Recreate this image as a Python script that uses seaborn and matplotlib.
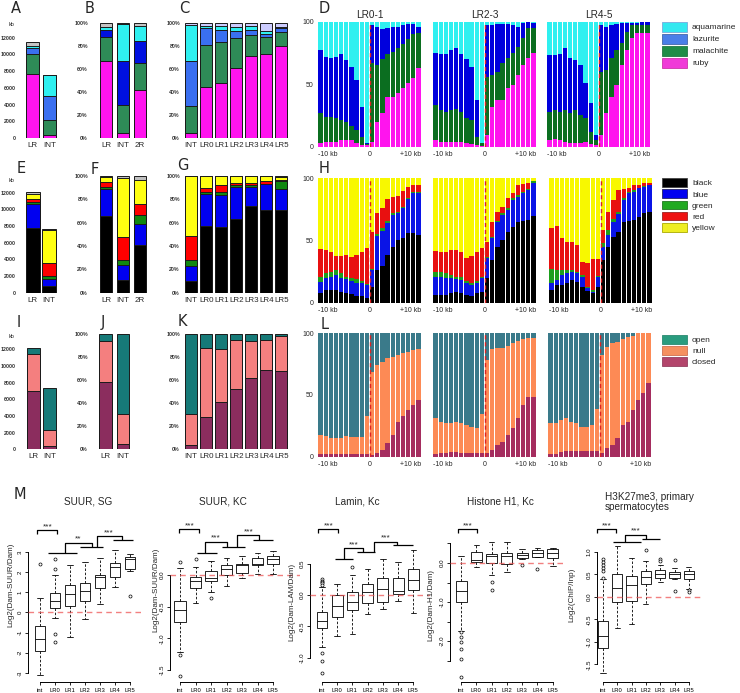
import numpy as np
import pandas as pd
import matplotlib
matplotlib.use("Agg")
import matplotlib.pyplot as plt
from matplotlib.patches import Patch
import seaborn as sns

sns.set_style("white")
plt.rcParams["font.family"] = ["Liberation Sans", "DejaVu Sans"]

# ---------------- data ----------------
two_cats = ["LR", "INT"]
three_cats = ["LR", "INT", "2R"]
seven_cats = ["INT", "LR0", "LR1", "LR2", "LR3", "LR4", "LR5"]

# A (kb): ruby, malachite, lazurite, aquamarine, other
a_ruby = [7600, 350]
a_mal = [2500, 1750]
a_laz = [700, 2900]
a_aqua = [200, 2500]
a_other = [500, 0]
# B (%)
b_ruby = [67, 5, 42]
b_mal = [21, 24, 23]
b_laz = [6, 38, 19]
b_aqua = [2, 32, 13]
b_other = [4, 1, 3]
# C (%)
c_ruby = [5, 44, 48, 61, 71, 73, 80]
c_mal = [23, 37, 35, 26, 18, 15, 12]
c_laz = [39, 14, 11, 6, 5, 2, 3]
c_aqua = [31, 2, 3, 3, 3, 3, 1]
c_other = [2, 3, 3, 4, 3, 7, 4]

# E (kb): black, blue, green, red, yellow, other
e_black = [7800, 800]
e_blue = [2800, 900]
e_green = [300, 300]
e_red = [400, 1600]
e_yellow = [600, 3900]
e_other = [150, 100]
# F (%)
f_black = [66, 11, 41]
f_blue = [23, 13, 18]
f_green = [2, 4, 8]
f_red = [4, 20, 9]
f_yellow = [4, 50, 21]
f_other = [1, 2, 3]
# G (%)
g_black = [10, 57, 56, 63, 74, 71, 71]
g_blue = [13, 28, 28, 28, 17, 22, 18]
g_green = [5, 1, 2, 1, 1, 0.5, 7]
g_red = [21, 4, 6, 2, 2, 2.5, 1]
g_yellow = [51, 10, 8, 6, 6, 4, 2]
g_other = [0, 0, 0, 0, 0, 0, 1]

# I (kb): closed, null, open
i_closed = [7000, 400]
i_null = [4400, 1900]
i_open = [700, 5100]
# J (%)
j_closed = [58, 5]
j_null = [36, 26]
j_open = [6, 69]
# K (%)
k_closed = [4, 28, 41, 52, 62, 69, 68]
k_null = [27, 60, 46, 43, 32, 26, 30]
k_open = [69, 12, 13, 5, 6, 5, 2]

# Profiles: cumulative stack tops (%), 20 bins of 1 kb from -10 to +10 kb
full = [100] * 20
d_lr01_ruby = [3, 4, 4, 4, 5, 5, 5, 3, 1, 1, 4, 20, 27, 40, 40, 43, 47, 51, 55, 63]
d_lr01_mal = [27, 24, 23.5, 23, 21, 20, 16.5, 13, 8, 2.5, 67, 65, 70, 74, 76, 79, 82, 86, 90, 91]
d_lr01_laz = [77, 71.5, 71, 71.5, 74, 69, 64, 53, 32, 3, 97, 96, 94, 95, 96, 96, 97, 98, 98, 96]
d_lr23_ruby = [5, 4, 4, 4, 4, 4, 3, 2, 1, 0.5, 9, 32, 37, 37, 47, 49, 57, 65, 71, 75]
d_lr23_mal = [33, 29, 28, 29, 30, 28, 23, 21, 8, 3, 56, 57, 60, 67, 71, 75, 80, 87, 95, 95]
d_lr23_laz = [75, 74, 74, 77, 79, 74, 70, 64, 37, 3, 97, 97, 98, 98, 98, 97, 96, 99, 100, 99]
d_lr45_ruby = [5, 6, 5, 4, 3, 3, 3, 4, 2, 1, 9, 27, 40, 49, 65, 77, 87, 91, 91, 91]
d_lr45_mal = [28, 29, 28, 29, 27, 29, 25, 23, 12, 5, 60, 61, 71, 77, 83, 92, 97, 97, 97, 97]
d_lr45_laz = [73, 73, 74, 79, 71, 69, 65, 51, 35, 9, 97, 96, 97, 98, 99, 99, 99, 99, 100, 100]

h_lr01_black = [8, 10, 10, 10, 9, 8, 7, 5.4, 5.4, 3.5, 13, 26, 29.5, 38, 44.5, 50, 52, 55.8, 56, 54.4]
h_lr01_blue = [17, 19.6, 21, 22, 20, 19, 17.7, 16, 15.5, 14, 26, 53.6, 57.6, 64, 70.5, 72, 75.8, 83, 88.5, 88.5]
h_lr01_green = [21, 23.6, 25, 26, 23.6, 21, 20, 19, 17.7, 15, 27, 55, 59.8, 66, 72, 73, 77, 84.5, 89, 89]
h_lr01_red = [43, 42, 41, 37.8, 37.8, 38.6, 37, 38.6, 41, 44, 57, 72, 76, 83.6, 85, 86, 90, 93, 94.6, 94.6]
h_lr23_black = [6, 6, 6, 7.5, 9, 7.5, 6, 5, 7.5, 9, 19.6, 34, 44.5, 50, 57, 61, 65, 66, 66.5, 69.7]
h_lr23_blue = [21, 21, 20, 19.6, 18.8, 18, 15.5, 14, 15.5, 19.6, 35.6, 51.7, 65, 70.5, 74.5, 82.6, 85, 88, 90.6, 96.5]
h_lr23_green = [25, 25, 24, 22, 21, 21, 17.7, 15.5, 17.7, 21, 37, 53, 66, 72, 76, 84, 86.6, 89, 91.4, 97.6]
h_lr23_red = [41.8, 41, 41, 42, 42, 41, 35.6, 37.5, 41, 44, 49, 65, 73, 77, 84.5, 88.5, 94.6, 95.4, 96, 98]
h_lr45_black = [10, 14, 14, 16, 18, 17, 13, 9.7, 8, 13, 34, 44.5, 52.5, 57, 64.5, 66, 66.5, 69, 72, 73]
h_lr45_blue = [15.5, 18, 22, 23.6, 25, 23.6, 21, 11.5, 8.8, 21, 45, 54.7, 64.5, 71, 82.6, 88, 89, 92, 93, 94.6]
h_lr45_green = [27, 26, 26, 26, 26, 24.7, 22, 12.9, 10, 21.5, 47.7, 58.7, 67, 73, 84.5, 89, 90.6, 92.5, 93.5, 95]
h_lr45_red = [60, 61.4, 52, 49, 49, 46, 33, 32, 35, 35, 58.7, 73, 82.6, 90.6, 91, 92, 94.6, 95, 96, 96]

l_lr01_closed = [2, 2, 2, 2, 2, 2.5, 2.5, 2, 2, 2, 1.5, 2.7, 5.4, 10.8, 17.5, 28, 33, 38, 42, 46]
l_lr01_null = [17.6, 16.8, 15, 15.4, 15.4, 16.8, 16, 16, 16, 33, 69, 74, 77, 80, 80.5, 82.7, 84, 85, 86.5, 87]
l_lr23_closed = [2, 3, 3, 4, 4, 3, 3, 3, 3, 3, 2.7, 5.4, 9.5, 12, 17.5, 23, 31, 42, 48, 48]
l_lr23_null = [31, 28.4, 27, 27, 28.4, 27.6, 25.7, 24, 23, 35, 78, 87, 87.8, 87.8, 89.7, 92, 94, 95, 96, 96]
l_lr45_closed = [2, 2, 4, 5, 5, 5, 5, 5, 5, 5, 2.7, 6.8, 9.5, 15, 25.7, 28.4, 38, 46, 51.4, 59.5]
l_lr45_null = [27, 27, 29.7, 31, 28.4, 27, 24, 24, 25.7, 38.6, 82.4, 89, 92, 93, 95, 96.8, 98, 100, 100, 100]

# M box plots: [whisker low, Q1, median, Q3, whisker high] per group
groups = ["int", "LR0", "LR1", "LR2", "LR3", "LR4", "LR5"]
suur_sg_stats = [[-3.1, -1.9, -1.33, -0.7, 0.72], [-0.28, 0.22, 0.55, 0.97, 1.85],
                 [-1.2, 0.3, 0.92, 1.33, 2.33], [-0.33, 0.55, 1.08, 1.43, 2.47],
                 [0.4, 1.22, 1.77, 1.83, 2.67], [1.27, 1.77, 2.25, 2.43, 3.1],
                 [2.03, 2.13, 2.63, 2.72, 2.88]]
suur_sg_out = {"int": [2.38], "LR0": [2.63, 2.13, -1.07, -1.48], "LR5": [0.8]}
suur_kc_stats = [[-1.21, -0.74, -0.55, -0.405, 0.105], [-0.44, -0.21, -0.1, -0.03, 0.12],
                 [-0.27, -0.1, -0.04, 0.07, 0.22], [-0.17, 0.0, 0.1, 0.16, 0.27],
                 [-0.05, 0.03, 0.15, 0.18, 0.3], [0.01, 0.16, 0.17, 0.26, 0.35],
                 [0.02, 0.17, 0.25, 0.3, 0.38]]
suur_kc_out = {"int": [0.21, -1.27, -1.59], "LR0": [0.25], "LR1": [-0.37]}
lamin_stats = [[-0.83, -0.53, -0.42, -0.27, 0.12], [-0.65, -0.35, -0.17, 0.0, 0.17],
               [-0.63, -0.24, -0.11, 0.04, 0.32], [-0.3, -0.13, 0.04, 0.18, 0.42],
               [-0.22, -0.11, 0.1, 0.27, 0.57], [-0.1, 0.01, 0.06, 0.27, 0.52],
               [-0.28, 0.08, 0.24, 0.42, 0.72]]
lamin_out = {"int": [0.25, 0.23, 0.21, 0.19, 0.16, -0.93, -1.05, -1.25], "LR1": [0.45]}
h1_stats = [[-1.75, -1.0, -0.73, -0.46, 0.17], [-0.11, 0.03, 0.08, 0.29, 0.47],
            [-0.31, 0.0, 0.19, 0.24, 0.55], [-0.22, -0.03, 0.18, 0.26, 0.55],
            [0.09, 0.12, 0.2, 0.26, 0.35], [0.15, 0.16, 0.25, 0.33, 0.39],
            [-0.08, 0.14, 0.26, 0.35, 0.39]]
h1_out = {"int": [-1.77, -1.9, -2.03, -2.21, -2.46, -2.92], "LR1": [-0.49, -0.69],
          "LR3": [-0.05], "LR4": [-0.16]}
h3k27_stats = [[-1.68, -1.13, -0.87, -0.53, 0.39], [-0.7, -0.11, 0.21, 0.5, 1.13],
               [-0.61, -0.1, 0.27, 0.47, 0.87], [-0.15, 0.28, 0.44, 0.58, 0.8],
               [0.33, 0.43, 0.5, 0.59, 0.72], [0.39, 0.43, 0.5, 0.56, 0.65],
               [0.17, 0.4, 0.5, 0.58, 0.67]]
h3k27_out = {"int": [0.85, 0.78, 0.72, 0.65, 0.58, 0.42], "LR2": [1.04], "LR3": [0.85, 0.8],
             "LR4": [0.82, 0.14], "LR5": [0.15, 0.12]}

# ---------------- figure ----------------
W, H = 740, 693
fig = plt.figure(figsize=(W / 100, H / 100), dpi=100)


def px_axes(left, top, right, bottom):
    return fig.add_axes([left / W, 1 - bottom / H, (right - left) / W, (bottom - top) / H])


def ftext(x, y, s, **kw):
    fig.text(x / W, 1 - y / H, s, **kw)


def bar_panel(box, cats, segs, colors, width, xlim, ylim, yticks, pct):
    ax = px_axes(*box)
    levels = np.cumsum(np.array(segs, dtype=float), axis=0)
    for lev, col in zip(levels[::-1], colors[::-1]):
        sns.barplot(x=cats, y=lev, color=col, width=width, saturation=1,
                    edgecolor="#1a1a1a", linewidth=0.7, errorbar=None, ax=ax)
    ax.set_xlim(*xlim)
    ax.set_ylim(*ylim)
    ax.set_yticks(yticks)
    ax.set_yticklabels([f"{v}%" if pct else f"{v}" for v in yticks])
    ax.tick_params(axis="y", labelsize=3.8, pad=3, length=0, labelcolor="#333333")
    ax.tick_params(axis="x", labelsize=5.8, pad=3, length=0)
    for t in ax.get_yticklabels():
        t.set_fontweight("bold")
    ax.set_xlabel("")
    ax.set_ylabel("")
    for s in ax.spines.values():
        s.set_visible(False)
    return ax


def profile(box, levels, colors, ylab=False):
    ax = px_axes(*box)
    bins = [str(i) for i in range(20)]
    for lev, col in zip(levels[::-1], colors[::-1]):
        sns.barplot(x=bins, y=lev, color=col, width=0.84, saturation=1,
                    linewidth=0, errorbar=None, ax=ax)
    ax.axvline(9.5, color="#dd2222", ls=(0, (3, 2)), lw=1.0)
    ax.set_xlim(-0.5, 19.5)
    ax.set_ylim(0, 100)
    ax.set_xticks([-0.5, 9.5, 19.5])
    ax.set_xticklabels(["-10 kb", "0", "+10 kb"])
    labs = ax.get_xticklabels()
    labs[0].set_ha("left")
    labs[2].set_ha("right")
    ax.set_yticks([0, 50, 100])
    ax.set_yticklabels(["0", "50", "100"] if ylab else [])
    ax.tick_params(axis="both", labelsize=5, length=0, pad=3)
    ax.set_xlabel("")
    ax.set_ylabel("")
    for s in ax.spines.values():
        s.set_visible(False)
    return ax


# row 1: A B C D
lz_light = "#3a6ff0"
aqua = "#2ff0f0"
ruby = "#ff14ee"
mal = "#2e8b57"
bar_panel((20, 25, 62, 138), two_cats, [a_ruby, a_mal, a_laz, a_aqua, a_other],
          [ruby, mal, lz_light, aqua, "#c4c4c4"], 0.76, (-0.735, 1.735), (0, 13520),
          list(range(0, 12001, 2000)), False)
bar_panel((92, 20, 152, 138.3), three_cats, [b_ruby, b_mal, b_laz, b_aqua, b_other],
          [ruby, mal, "#0010e0", aqua, "#c4c4c4"], 0.72, (-0.82, 2.7), (0, 102.3),
          list(range(0, 101, 20)), True)
bar_panel((184, 20, 290, 138.3), seven_cats, [c_ruby, c_mal, c_laz, c_aqua, c_other],
          [ruby, mal, lz_light, aqua, "#ccccff"], 0.8, (-0.47, 6.57), (0, 102.3),
          list(range(0, 101, 20)), True)

d_cols = [ruby, "#0b6e20", "#0000dd", aqua]
profile((318, 21.7, 421, 146.7), [d_lr01_ruby, d_lr01_mal, d_lr01_laz, full], d_cols, ylab=True)
profile((433, 21.7, 536, 146.7), [d_lr23_ruby, d_lr23_mal, d_lr23_laz, full], d_cols)
profile((547, 21.7, 650, 146.7), [d_lr45_ruby, d_lr45_mal, d_lr45_laz, full], d_cols)
for x, t in [(369.5, "LR0-1"), (484.5, "LR2-3"), (598.5, "LR4-5")]:
    ftext(x, 15, t, ha="center", va="center", fontsize=7.2)

# row 2: E F G H
k_cols = ["#000000", "#0000f0", "#118811", "#ff0000", "#ffff11", "#c0c0c0"]
bar_panel((20, 178, 62, 292.7), two_cats, [e_black, e_blue, e_green, e_red, e_yellow, e_other],
          k_cols, 0.85, (-0.8, 1.825), (0, 13764), list(range(0, 12001, 2000)), False)
bar_panel((92, 173, 152, 292.7), three_cats, [f_black, f_blue, f_green, f_red, f_yellow, f_other],
          k_cols, 0.72, (-0.82, 2.7), (0, 102.6), list(range(0, 101, 20)), True)
bar_panel((184, 173, 290, 292.7), seven_cats, [g_black, g_blue, g_green, g_red, g_yellow, g_other],
          k_cols, 0.8, (-0.47, 6.57), (0, 102.6), list(range(0, 101, 20)), True)

h_cols = ["#000000", "#0a14e6", "#1d9e1d", "#e81010", "#f8f800"]
profile((318, 178.3, 421, 302.7), [h_lr01_black, h_lr01_blue, h_lr01_green, h_lr01_red, full], h_cols, ylab=True)
profile((433, 178.3, 536, 302.7), [h_lr23_black, h_lr23_blue, h_lr23_green, h_lr23_red, full], h_cols)
profile((549, 178.3, 652, 302.7), [h_lr45_black, h_lr45_blue, h_lr45_green, h_lr45_red, full], h_cols)

# row 3: I J K L
c_cols = ["#8b2d5e", "#f47f7f", "#167a78"]
bar_panel((20, 335, 62, 449.3), two_cats, [i_closed, i_null, i_open], c_cols, 0.79,
          (-0.79, 1.76), (0, 13716), list(range(0, 12001, 2000)), False)
bar_panel((92, 331, 152, 449.3), two_cats, [j_closed, j_null, j_open], c_cols, 0.72,
          (-0.77, 2.66), (0, 102.6), list(range(0, 101, 20)), True)
bar_panel((184, 331, 290, 449.3), seven_cats, [k_closed, k_null, k_open], c_cols, 0.8,
          (-0.47, 6.57), (0, 102.6), list(range(0, 101, 20)), True)

l_cols = ["#a52d5f", "#fd8a55", "#3a7a8a"]
profile((318, 333.3, 421, 456.7), [l_lr01_closed, l_lr01_null, full], l_cols, ylab=True)
profile((433, 333.3, 536, 456.7), [l_lr23_closed, l_lr23_null, full], l_cols)
profile((548, 333.3, 651, 456.7), [l_lr45_closed, l_lr45_null, full], l_cols)

for y in (25, 180, 337):
    ftext(12, y, "kb", ha="center", va="center", fontsize=4)

# legends
def legend(top, names, colors, edges, hh):
    handles = [Patch(facecolor=c, edgecolor=e, linewidth=0.6) for c, e in zip(colors, edges)]
    fig.legend(handles, names, loc="upper left", bbox_to_anchor=(662 / W, 1 - top / H),
               frameon=False, fontsize=6, handlelength=3.0, handleheight=hh,
               labelspacing=0.25, handletextpad=0.6, borderpad=0, borderaxespad=0)

legend(21.7, ["aquamarine", "lazurite", "malachite", "ruby"],
       ["#33e8f0", "#4a7ee8", "#1f8c47", "#f03ad8"], ["#7ad", "#46a", "#274", "#c3a"], 1.45)
legend(178.3, ["black", "blue", "green", "red", "yellow"],
       ["#000000", "#0000f0", "#22aa22", "#ee1111", "#eeee22"],
       ["#444", "#226", "#272", "#922", "#aa0"], 1.2)
legend(335, ["open", "null", "closed"], ["#2a9c7f", "#f5905f", "#b3456b"],
       ["#2a8a70", "#d07050", "#934060"], 1.2)

# panel letters
for x, y, s in [(11, 1, "A"), (85, 1, "B"), (179, 1, "C"), (319, 1, "D"),
                (17, 161, "E"), (91, 162, "F"), (177, 158, "G"), (319, 161, "H"),
                (17, 315, "I"), (101, 315, "J"), (178, 314, "K"), (321, 317, "L"),
                (14, 487, "M")]:
    ftext(x, y, s, ha="left", va="top", fontsize=10.5, family="DejaVu Sans")


# ---------------- M: box plots ----------------
def box_panel(box, xlim, ylim, stats, outliers, ybounds, yticks, ylabs):
    ax = px_axes(*box)
    df = pd.DataFrame([(g, v) for g, five in zip(groups, stats) for v in five], columns=["grp", "val"])
    sns.boxplot(data=df, x="grp", y="val", order=groups, whis=(0, 100), showfliers=False,
                width=0.72, color="white", linecolor="black", linewidth=0.6,
                whiskerprops={"linestyle": (0, (3, 2))}, ax=ax)
    odf = pd.DataFrame([(g, v) for g, vals in outliers.items() for v in vals], columns=["grp", "val"])
    sns.stripplot(data=odf, x="grp", y="val", order=groups, jitter=False, size=2.2,
                  color="white", edgecolor="black", linewidth=0.5, ax=ax, zorder=4)
    ax.axhline(0, color="#ee5555", ls=(0, (4, 3)), lw=1.0, alpha=0.75, zorder=5)
    ax.set_xlim(*xlim)
    ax.set_ylim(*ylim)
    for s in ("top", "right"):
        ax.spines[s].set_visible(False)
    for s in ("left", "bottom"):
        ax.spines[s].set_color("black")
        ax.spines[s].set_linewidth(0.7)
    ax.spines["left"].set_bounds(*ybounds)
    ax.spines["bottom"].set_bounds(0, 6)
    ax.set_yticks(yticks)
    ax.set_yticklabels(ylabs)
    ax.set_xticks(range(7))
    ax.set_xticklabels(groups)
    ax.tick_params(left=True, bottom=True, direction="out", length=2.5, width=0.6, colors="black")
    ax.tick_params(axis="y", labelsize=4.4, pad=1.2, labelrotation=90)
    ax.tick_params(axis="x", labelsize=4.2, pad=1.5)
    for t in ax.get_yticklabels():
        t.set_va("center")
    ax.set_xlabel("")
    ax.set_ylabel("")
    return ax


def sig(ax, pair, lines=(), links=()):
    x0, x1, top, h = pair
    kw = dict(color="black", lw=0.9, clip_on=False, solid_capstyle="butt")
    ax.plot([x0, x0, x1, x1], [top - h, top, top, top - h], **kw)
    ax.text((x0 + x1) / 2, top, "***", ha="center", va="bottom", fontsize=6)
    for a, b, y in lines:
        ax.plot([a, b], [y, y], **kw)
    for i, (xa, xb, t, txt) in enumerate(links):
        ya, yb = lines[i][2], lines[i + 1][2]
        ax.plot([xa, xa, xb, xb], [ya, t, t, yb], **kw)
        ax.text((xa + xb) / 2, t, txt, ha="center", va="bottom", fontsize=6)


ax1 = box_panel((28, 515, 143, 682), (-0.8, 6.87), (-3.45, 4.82), suur_sg_stats, suur_sg_out,
                (-3, 3), [-3, -2, -1, 0, 1, 2, 3], ["-3", "-2", "-1", "0", "1", "2", "3"])
sig(ax1, (-0.18, 1.15, 4.07, 0.2), [(0.56, 2.44, 2.95), (2.67, 4.22, 3.25), (4.89, 6.18, 3.58)],
    [(1.67, 3.44, 3.45, "**"), (3.78, 5.44, 3.78, "***")])

ax2 = box_panel((170, 515, 300, 682), (-0.645, 7.74), (-1.688, 0.946), suur_kc_stats, suur_kc_out,
                (-1.5, 0), [-1.5, -1.0, -0.5, 0.0], ["-1.5", "-1.0", "-0.5", "0.0"])
sig(ax2, (-0.04, 1.25, 0.72, 0.053), [(1.08, 2.37, 0.352), (2.69, 4.19, 0.446), (4.73, 6.02, 0.55)],
    [(1.61, 3.01, 0.525, "***"), (3.7, 5.12, 0.63, "***")])

ax3 = box_panel((310, 515, 430, 682), (-0.79, 7.1), (-1.388, 1.276), lamin_stats, lamin_out,
                (-1.0, 0.5), [-1.0, -0.5, 0.0, 0.5], ["-1.0", "-0.5", "0.0", "0.5"])
sig(ax3, (-0.24, 1.07, 1.048, 0.064), [(0.86, 2.06, 0.569), (2.3, 3.49, 0.69), (4.69, 6.01, 0.80)],
    [(1.47, 2.68, 0.745, "***"), (3.42, 4.95, 0.85, "***")])

ax4 = box_panel((450, 515, 563, 682), (-0.72, 6.67), (-3.05, 1.23), h1_stats, h1_out,
                (-2.5, 0.5), [-2.5, -2.0, -1.5, -1.0, -0.5, 0.0, 0.5],
                ["", "-2.0", "", "-1.0", "", "0.0", ""])
sig(ax4, (-0.18, 1.02, 0.864, 0.1))

ax5 = box_panel((597, 515, 702, 682), (-0.42, 6.92), (-1.889, 1.822), h3k27_stats, h3k27_out,
                (-1.5, 1.0), [-1.5, -1.0, -0.5, 0.0, 0.5, 1.0],
                ["-1.5", "-1.0", "-0.5", "0.0", "0.5", "1.0"])
sig(ax5, (-0.44, 0.91, 1.50, 0.07), [(0.72, 2.63, 1.23), (2.7, 3.99, 1.28)],
    [(1.56, 2.98, 1.38, "***")])

# titles and y labels of M
ftext(88, 502, "SUUR, SG", ha="center", va="center", fontsize=7.2)
ftext(223, 502, "SUUR, KC", ha="center", va="center", fontsize=7.2)
ftext(357, 501, "Lamin, Kc", ha="center", va="center", fontsize=7.2)
ftext(500, 501, "Histone H1, Kc", ha="center", va="center", fontsize=7.2)
ftext(605, 502, "H3K27me3, primary\nspermatocytes", ha="left", va="center", fontsize=7.2,
      linespacing=1.1)
for x, y, s in [(11, 585, "Log2(Dam-SUUR/Dam)"), (156, 590, "Log2(Dam-SUUR/Dam)"),
                (292, 602, "Log2(Dam-LAM/Dam)"), (431, 605, "Log2(Dam-H1/Dam)"),
                (572, 595, "Log2(ChIP/Inp)")]:
    ftext(x, y, s, ha="center", va="center", rotation=90, fontsize=5.8)

fig.savefig("out.png", dpi=100)
